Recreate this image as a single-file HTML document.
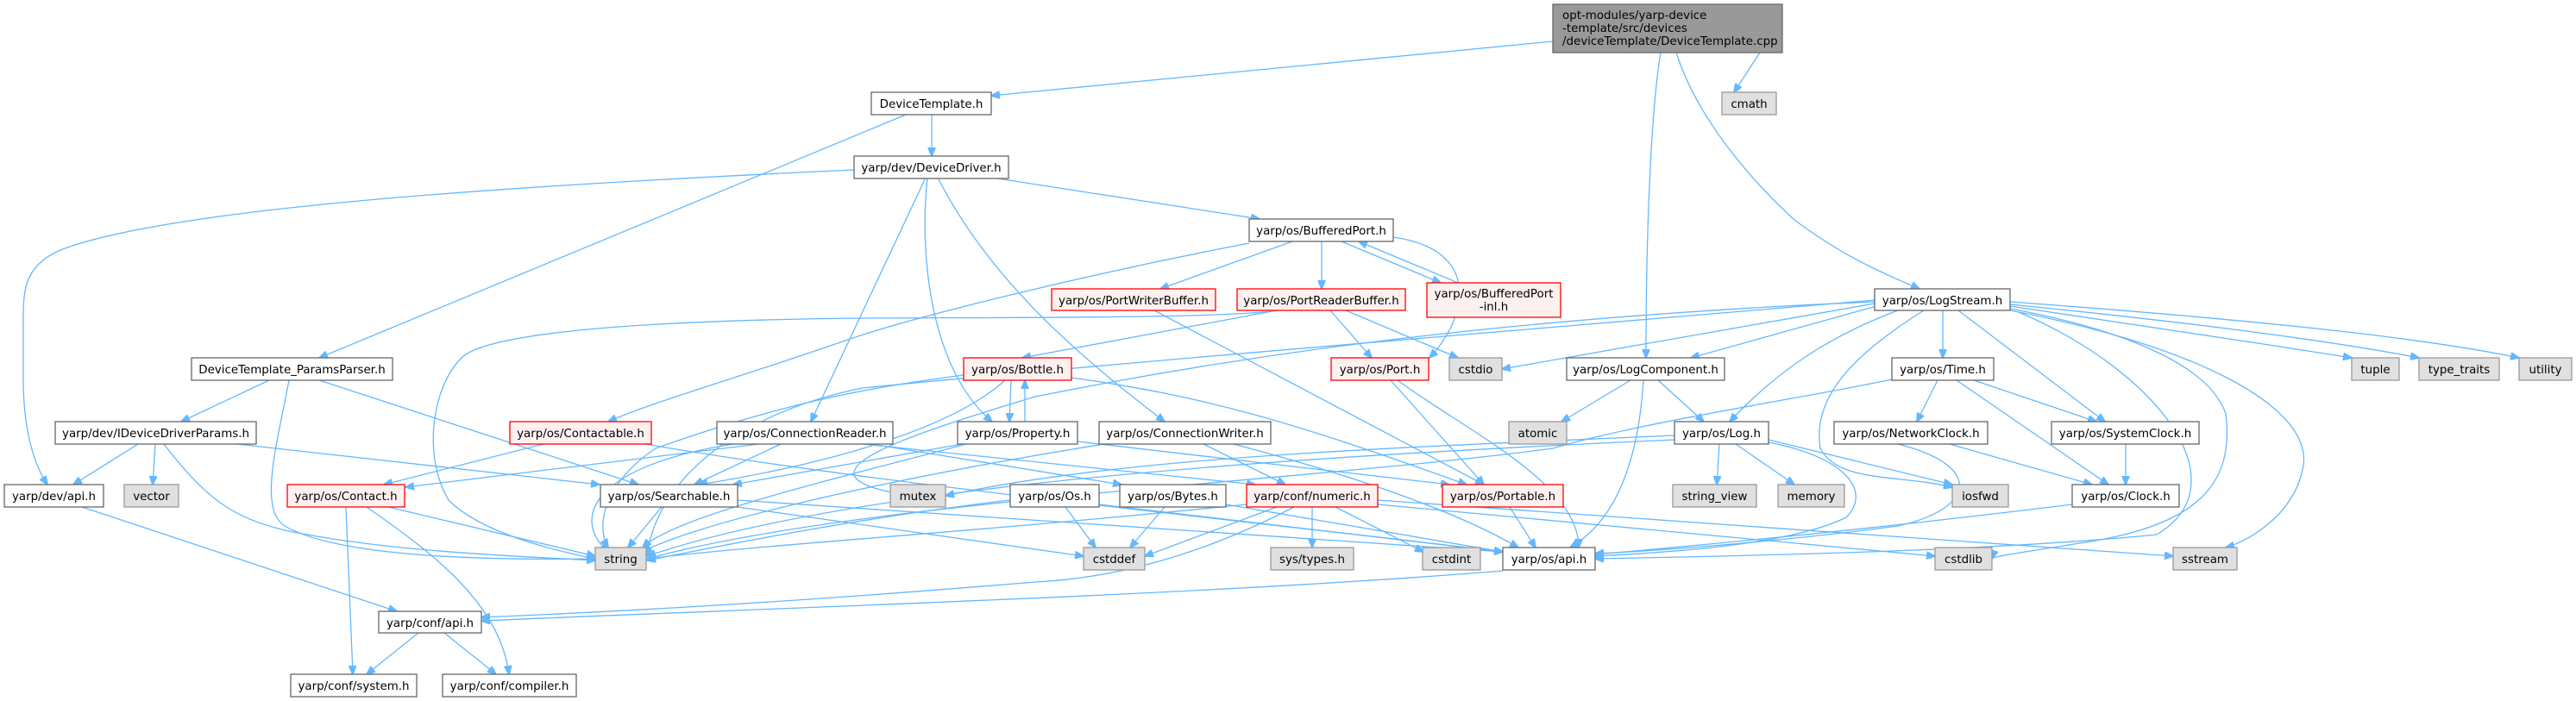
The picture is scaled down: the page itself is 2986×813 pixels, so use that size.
<!DOCTYPE html>
<html><head><meta charset="utf-8"><style>
html,body{margin:0;padding:0;background:#fff;}
svg{display:block;}
text{font-family:"DejaVu Sans","Liberation Sans",sans-serif;font-size:13.4px;fill:#000;text-anchor:middle;}
.e{fill:none;stroke:#63b8ff;stroke-width:1.3;marker-end:url(#a);}
.w{fill:#fff;stroke:#666;stroke-width:1.3;}
.r{fill:#fff0f0;stroke:#f00;stroke-width:1.3;}
.g{fill:#e0e0e0;stroke:#999;stroke-width:1.3;}
.k{fill:#999;stroke:#666;stroke-width:1.3;}
</style></head><body>
<svg width="2986" height="813" viewBox="0 0 2986 813" xmlns="http://www.w3.org/2000/svg">
<defs><marker id="a" markerWidth="11" markerHeight="9" refX="10" refY="4.5" orient="auto" markerUnits="userSpaceOnUse"><path d="M0,0 L11,4.5 L0,9 z" fill="#63b8ff" stroke="#63b8ff"/></marker></defs>
<g>
<path class="e" d="M1800,48 L1149,111"/>
<path class="e" d="M1925,61 C1915,120 1908,250 1908,415"/>
<path class="e" d="M2040,61 L2010,107"/>
<path class="e" d="M1943,61 C1965,130 2020,200 2080,255 C2140,300 2190,320 2225,335"/>
<path class="e" d="M1080,133 L1080,181"/>
<path class="e" d="M1050,133 L370,415"/>
<path class="e" d="M1150,206 L1460,254"/>
<path class="e" d="M990,197 C600,215 200,240 70,290 C25,310 27,340 27,380 L27,440 C27,500 40,540 55,562"/>
<path class="e" d="M1075,206 C1065,300 1080,430 1150,489"/>
<path class="e" d="M1073,206 L940,489"/>
<path class="e" d="M1087,206 C1150,330 1260,420 1350,489"/>
<path class="e" d="M1498,280 L1345,335"/>
<path class="e" d="M1532,280 L1532,335"/>
<path class="e" d="M1555,280 L1670,328"/>
<path class="e" d="M1690,328 L1575,280"/>
<path class="e" d="M1448,282 C1250,320 1050,370 980,395 C850,440 760,465 705,489"/>
<path class="e" d="M1615,275 C1720,290 1700,370 1657,415"/>
<path class="e" d="M1480,360 C1420,370 1100,368 1000,369 C700,372 560,390 535,415 C500,450 490,530 520,580 C560,620 650,640 690,648"/>
<path class="e" d="M1480,360 L1185,415"/>
<path class="e" d="M1542,360 L1590,415"/>
<path class="e" d="M1560,360 L1690,415"/>
<path class="e" d="M1338,360 L1720,562"/>
<path class="e" d="M1172,441 L1170,489"/>
<path class="e" d="M1188,489 L1188,441"/>
<path class="e" d="M1242,438 C1400,460 1500,490 1700,562"/>
<path class="e" d="M1165,441 C1100,500 950,540 810,562"/>
<path class="e" d="M1117,435 C1000,450 900,470 760,520 C700,560 690,610 705,635"/>
<path class="e" d="M1115,515 L850,562"/>
<path class="e" d="M1120,515 C950,560 780,600 745,635"/>
<path class="e" d="M1249,512 L1680,562"/>
<path class="e" d="M1612,441 L1720,562"/>
<path class="e" d="M1620,441 C1700,500 1830,560 1830,635"/>
<path class="e" d="M1750,588 L1780,635"/>
<path class="e" d="M880,515 L470,565"/>
<path class="e" d="M905,515 L805,562"/>
<path class="e" d="M850,515 C690,540 660,600 705,640"/>
<path class="e" d="M1000,515 L1455,562"/>
<path class="e" d="M1010,515 L1300,562"/>
<path class="e" d="M1395,515 L1490,562"/>
<path class="e" d="M1430,515 C1600,560 1700,600 1760,635"/>
<path class="e" d="M1280,515 C1000,560 800,610 745,640"/>
<path class="e" d="M630,515 L445,562"/>
<path class="e" d="M737,513 C1000,560 1500,610 1742,640"/>
<path class="e" d="M450,588 L690,645"/>
<path class="e" d="M401,588 L409,782"/>
<path class="e" d="M425,588 C500,640 580,700 590,782"/>
<path class="e" d="M767,588 L728,635"/>
<path class="e" d="M855,580 L1742,640"/>
<path class="e" d="M855,588 L1256,645"/>
<path class="e" d="M160,515 L85,562"/>
<path class="e" d="M180,515 L177,562"/>
<path class="e" d="M190,515 C240,580 270,600 330,615 C450,640 600,645 690,650"/>
<path class="e" d="M275,515 L695,562"/>
<path class="e" d="M312,441 L210,489"/>
<path class="e" d="M335,441 C320,520 300,590 330,610 C390,645 550,650 690,648"/>
<path class="e" d="M370,441 L740,562"/>
<path class="e" d="M95,588 L460,709"/>
<path class="e" d="M485,734 L425,782"/>
<path class="e" d="M515,734 L575,782"/>
<path class="e" d="M1742,662 C1400,690 900,705 558,720"/>
<path class="e" d="M1500,588 C1400,640 1300,670 1200,675 C900,700 700,710 558,716"/>
<path class="e" d="M1480,588 L1327,645"/>
<path class="e" d="M1521,588 L1521,635"/>
<path class="e" d="M1548,588 L1650,640"/>
<path class="e" d="M1445,585 C1100,620 900,630 750,648"/>
<path class="e" d="M1597,585 L2243,645"/>
<path class="e" d="M1597,580 L2519,645"/>
<path class="e" d="M1235,588 L1270,635"/>
<path class="e" d="M1274,585 L1742,640"/>
<path class="e" d="M1171,580 C1000,600 850,630 750,650"/>
<path class="e" d="M1350,588 L1310,635"/>
<path class="e" d="M1421,585 L1742,640"/>
<path class="e" d="M1890,441 L1810,489"/>
<path class="e" d="M1922,441 L1975,489"/>
<path class="e" d="M1905,441 C1900,520 1880,600 1820,635"/>
<path class="e" d="M1993,515 L1990,562"/>
<path class="e" d="M2012,515 L2080,562"/>
<path class="e" d="M2050,510 L2263,562"/>
<path class="e" d="M2050,513 C2140,530 2170,570 2140,600 C2080,630 1950,640 1849,645"/>
<path class="e" d="M1941,505 C1600,520 1300,530 1096,575"/>
<path class="e" d="M1941,510 C1500,530 1000,560 750,645"/>
<path class="e" d="M2252,360 L2252,415"/>
<path class="e" d="M2270,360 L2440,489"/>
<path class="e" d="M2200,360 C2120,390 2060,430 2005,489"/>
<path class="e" d="M2175,355 L1960,415"/>
<path class="e" d="M2173,352 L1741,428"/>
<path class="e" d="M2330,355 C2500,380 2600,395 2726,415"/>
<path class="e" d="M2330,353 C2550,375 2700,395 2804,415"/>
<path class="e" d="M2330,350 C2600,370 2800,390 2920,415"/>
<path class="e" d="M2330,360 C2540,400 2680,470 2670,540 C2660,600 2600,630 2580,635"/>
<path class="e" d="M2330,358 C2450,380 2560,420 2580,480 C2590,560 2550,610 2410,630 C2350,640 2310,645 2309,648"/>
<path class="e" d="M2230,360 C2150,410 2100,460 2110,520 C2130,560 2200,550 2263,565"/>
<path class="e" d="M2173,348 C1800,380 1300,420 1000,450 C850,480 760,560 750,645"/>
<path class="e" d="M2173,350 C1700,370 1400,420 1200,460 C1000,520 900,560 1096,580"/>
<path class="e" d="M2340,362 C2500,430 2600,560 2500,620 C2300,640 2000,645 1849,648"/>
<path class="e" d="M2246,441 L2222,489"/>
<path class="e" d="M2288,441 L2430,489"/>
<path class="e" d="M2268,441 L2444,562"/>
<path class="e" d="M2193,440 C2100,460 1900,490 1800,520 C1500,560 1000,580 750,648"/>
<path class="e" d="M2260,515 L2425,562"/>
<path class="e" d="M2200,515 C2300,540 2290,590 2200,610 C2050,630 1900,640 1849,642"/>
<path class="e" d="M2464,515 L2464,562"/>
<path class="e" d="M2402,585 C2200,610 2000,630 1849,643"/>
</g>
<g>
<rect class="k" x="1800" y="5" width="266" height="56"/>
<text x="1933" y="22" style="text-anchor:start" transform="translate(-122,0)">opt-modules/yarp-device</text>
<text x="1811" y="37" style="text-anchor:start">-template/src/devices</text>
<text x="1811" y="52" style="text-anchor:start">/deviceTemplate/DeviceTemplate.cpp</text>

<rect class="w" x="1010" y="107" width="139" height="26"/><text x="1079.5" y="125">DeviceTemplate.h</text>
<rect class="g" x="1996" y="107" width="63" height="26"/><text x="2027.5" y="125">cmath</text>
<rect class="w" x="990" y="181" width="179" height="26"/><text x="1079.5" y="199">yarp/dev/DeviceDriver.h</text>
<rect class="w" x="1448" y="254" width="167" height="26"/><text x="1531.5" y="272">yarp/os/BufferedPort.h</text>
<rect class="r" x="1219" y="335" width="190" height="25"/><text x="1314" y="353">yarp/os/PortWriterBuffer.h</text>
<rect class="r" x="1434" y="335" width="195" height="25"/><text x="1531.5" y="353">yarp/os/PortReaderBuffer.h</text>
<rect class="r" x="1654" y="328" width="155" height="40"/><text x="1731.5" y="345">yarp/os/BufferedPort</text><text x="1731.5" y="360">-inl.h</text>
<rect class="w" x="2173" y="335" width="157" height="25"/><text x="2251.5" y="353">yarp/os/LogStream.h</text>
<rect class="w" x="222" y="415" width="233" height="26"/><text x="338.5" y="433">DeviceTemplate_ParamsParser.h</text>
<rect class="r" x="1117" y="415" width="125" height="26"/><text x="1179.5" y="433">yarp/os/Bottle.h</text>
<rect class="r" x="1543" y="415" width="113" height="26"/><text x="1599.5" y="433">yarp/os/Port.h</text>
<rect class="g" x="1680" y="415" width="61" height="26"/><text x="1710.5" y="433">cstdio</text>
<rect class="w" x="1816" y="415" width="183" height="26"/><text x="1907.5" y="433">yarp/os/LogComponent.h</text>
<rect class="w" x="2193" y="415" width="118" height="26"/><text x="2252" y="433">yarp/os/Time.h</text>
<rect class="g" x="2726" y="415" width="55" height="26"/><text x="2753.5" y="433">tuple</text>
<rect class="g" x="2804" y="415" width="93" height="26"/><text x="2850.5" y="433">type_traits</text>
<rect class="g" x="2920" y="415" width="61" height="26"/><text x="2950.5" y="433">utility</text>
<rect class="w" x="64" y="489" width="233" height="26"/><text x="180.5" y="507">yarp/dev/IDeviceDriverParams.h</text>
<rect class="r" x="591" y="489" width="164" height="26"/><text x="673" y="507">yarp/os/Contactable.h</text>
<rect class="w" x="831" y="489" width="204" height="26"/><text x="933" y="507">yarp/os/ConnectionReader.h</text>
<rect class="w" x="1110" y="489" width="139" height="26"/><text x="1179.5" y="507">yarp/os/Property.h</text>
<rect class="w" x="1274" y="489" width="199" height="26"/><text x="1373.5" y="507">yarp/os/ConnectionWriter.h</text>
<rect class="g" x="1749" y="489" width="67" height="26"/><text x="1782.5" y="507">atomic</text>
<rect class="w" x="1941" y="489" width="109" height="26"/><text x="1995.5" y="507">yarp/os/Log.h</text>
<rect class="w" x="2126" y="489" width="178" height="26"/><text x="2215" y="507">yarp/os/NetworkClock.h</text>
<rect class="w" x="2378" y="489" width="171" height="26"/><text x="2463.5" y="507">yarp/os/SystemClock.h</text>
<rect class="w" x="5" y="562" width="115" height="26"/><text x="62.5" y="580">yarp/dev/api.h</text>
<rect class="g" x="144" y="562" width="63" height="26"/><text x="175.5" y="580">vector</text>
<rect class="r" x="333" y="562" width="136" height="26"/><text x="401" y="580">yarp/os/Contact.h</text>
<rect class="w" x="696" y="562" width="159" height="26"/><text x="775.5" y="580">yarp/os/Searchable.h</text>
<rect class="g" x="1032" y="562" width="64" height="26"/><text x="1064" y="580">mutex</text>
<rect class="w" x="1171" y="562" width="103" height="26"/><text x="1222.5" y="580">yarp/os/Os.h</text>
<rect class="w" x="1298" y="562" width="123" height="26"/><text x="1359.5" y="580">yarp/os/Bytes.h</text>
<rect class="r" x="1445" y="562" width="152" height="26"/><text x="1521" y="580">yarp/conf/numeric.h</text>
<rect class="r" x="1672" y="562" width="140" height="26"/><text x="1742" y="580">yarp/os/Portable.h</text>
<rect class="g" x="1939" y="562" width="97" height="26"/><text x="1987.5" y="580">string_view</text>
<rect class="g" x="2061" y="562" width="77" height="26"/><text x="2099.5" y="580">memory</text>
<rect class="g" x="2263" y="562" width="65" height="26"/><text x="2295.5" y="580">iosfwd</text>
<rect class="w" x="2402" y="562" width="124" height="26"/><text x="2464" y="580">yarp/os/Clock.h</text>
<rect class="g" x="690" y="635" width="59" height="26"/><text x="719.5" y="653">string</text>
<rect class="g" x="1256" y="635" width="71" height="26"/><text x="1291.5" y="653">cstddef</text>
<rect class="g" x="1473" y="635" width="96" height="26"/><text x="1521" y="653">sys/types.h</text>
<rect class="g" x="1649" y="635" width="67" height="26"/><text x="1682.5" y="653">cstdint</text>
<rect class="w" x="1742" y="635" width="107" height="26"/><text x="1795.5" y="653">yarp/os/api.h</text>
<rect class="g" x="2243" y="635" width="66" height="26"/><text x="2276" y="653">cstdlib</text>
<rect class="g" x="2519" y="635" width="74" height="26"/><text x="2556" y="653">sstream</text>
<rect class="w" x="439" y="709" width="119" height="25"/><text x="498.5" y="727">yarp/conf/api.h</text>
<rect class="w" x="337" y="782" width="146" height="26"/><text x="410" y="800">yarp/conf/system.h</text>
<rect class="w" x="513" y="782" width="155" height="26"/><text x="590.5" y="800">yarp/conf/compiler.h</text>
</g>
</svg>
</body></html>
